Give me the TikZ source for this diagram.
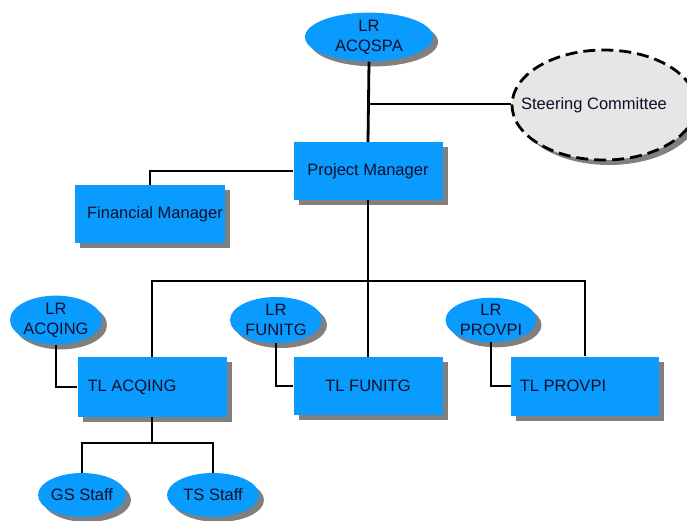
\documentclass[tikz,border=0pt]{standalone}
\usepackage{fontspec}
\setmainfont{Liberation Sans}
\usetikzlibrary{shapes.geometric,shadows}
\definecolor{boxblue}{RGB}{10,155,255}
\definecolor{txt}{RGB}{15,15,40}
\definecolor{scgray}{RGB}{230,230,230}
\definecolor{shad}{RGB}{128,128,128}
\tikzset{
  shd/.style={drop shadow={shadow xshift=5pt,shadow yshift=-5pt,fill=shad,opacity=1}},
  rbox/.style={rectangle,fill=boxblue,shd,inner sep=0pt,text=txt,font=\fontsize{16.5}{19}\selectfont},
  oval/.style={ellipse,fill=boxblue,shd,inner sep=0pt,text=txt,align=center,font=\fontsize{16.5}{20}\selectfont},
  conn/.style={line width=2.8pt,draw=black}
}
\begin{document}
\begin{tikzpicture}[x=1pt,y=-1pt]
\useasboundingbox (0,0) rectangle (687,520);
% nodes
\node[oval,minimum width=128pt,minimum height=46pt] (acqspa) at (369,37) {LR\\ACQSPA};
\node[oval,fill=scgray,draw=black,dash pattern=on 12pt off 6pt,line width=2.8pt,inner xsep=-20pt,minimum width=184pt,minimum height=110pt] (sc) at (604,105) {\hspace*{-20pt}Steering Committee};
\node[rbox,minimum width=149pt,minimum height=58pt] (pm) at (368,171) {Project Manager};
\node[rbox,minimum width=150pt,minimum height=58pt] (fm) at (150,214) {\hspace*{10pt}Financial Manager};
\node[rbox,minimum width=149pt,minimum height=60pt] (tla) at (152,387) {\hspace*{-40pt}TL ACQING};
\node[rbox,minimum width=149pt,minimum height=58pt] (tlf) at (368,386) {TL FUNITG};
\node[rbox,minimum width=148pt,minimum height=59pt] (tlp) at (585,386) {\hspace*{-44pt}TL PROVPI};
\node[oval,minimum width=91pt,minimum height=46pt] (lra) at (56,320) {LR\\ACQING};
\node[oval,minimum width=92pt,minimum height=46pt] (lrf) at (276,320) {LR\\FUNITG};
\node[oval,minimum width=91pt,minimum height=43pt] (lrp) at (491,320) {LR\\PROVPI};
\node[oval,minimum width=88pt,minimum height=44pt] (gs) at (82,495) {GS Staff};
\node[oval,minimum width=92pt,minimum height=44pt] (ts) at (213,495) {TS Staff};
% junctions
\coordinate (j1) at (369,104);
\coordinate (bus) at (369,281);
\coordinate (sb) at (152,443);
% connectors
\draw[conn] (acqspa.south) -- (pm.north);
\draw[conn] (j1) -- (j1 -| sc.west);
\draw[conn] (fm.north) |- (pm.west);
\draw[conn] (pm.south) -- (tlf.north);
\draw[conn] (tla.north) |- (bus) -| (tlp.north);
\draw[conn] (lra.south) |- (tla.west);
\draw[conn] (lrf.south) |- (tlf.west);
\draw[conn] (lrp.south) |- (tlp.west);
\draw[conn] (tla.south) -- (sb);
\draw[conn] (gs.north) |- (sb) -| (ts.north);
\end{tikzpicture}
\end{document}
